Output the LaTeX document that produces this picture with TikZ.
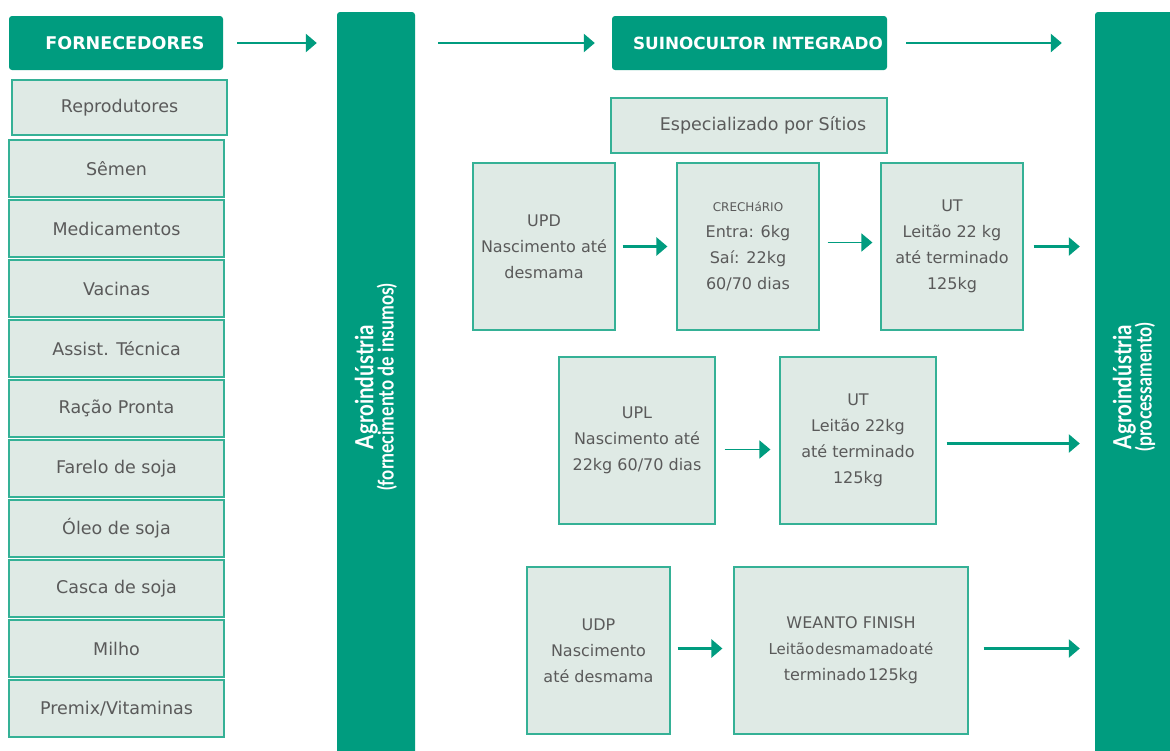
\documentclass[tikz,border=0pt]{standalone}
\usepackage{fontspec}
\setmainfont{DejaVu Sans}
\newfontfamily\condfont[FakeStretch=0.82]{Lato}
\usetikzlibrary{arrows.meta}
\definecolor{agrogreen}{HTML}{009C7F}
\definecolor{boxfill}{HTML}{DFEAE5}
\definecolor{boxline}{HTML}{35B196}
\definecolor{txtgray}{HTML}{5A5A5A}

\begin{document}
\begin{tikzpicture}[x=1pt, y=-1pt, >={Triangle[length=11pt,width=18pt]},
  every node/.style={align=center, text=txtgray, inner sep=0pt},
  head/.style={fill=agrogreen, rounded corners=3pt, text=white, font=\fontsize{17.5}{19}\selectfont\bfseries, minimum height=54pt},
  item/.style={draw=boxline, line width=1.2pt, fill=boxfill, font=\fontsize{17.5}{20}\selectfont, minimum width=215pt, minimum height=57pt},
  unit/.style={draw=boxline, line width=1.2pt, fill=boxfill, font=\fontsize{16}{26}\selectfont, minimum height=167pt},
  column/.style={fill=agrogreen, rounded corners=3pt, minimum width=78pt, minimum height=750pt, text=white},
  flow/.style={->, draw=agrogreen, line width=2.6pt}]
\clip (0,0) rectangle (1170,750);
\fill[white] (0,0) rectangle (1170,750);

% fornecedores
\node[head, minimum width=214pt] (forn) at (116,43) {\hspace{18pt}FORNECEDORES};
\node[item, minimum height=55pt] (repro) at (119.5,107.5) {Reprodutores};
\foreach \lbl [count=\i from 0] in {Sêmen, Medicamentos, Vacinas, Assist. Técnica, Ração Pronta, Farelo de soja, Óleo de soja, Casca de soja, Milho, Premix/Vitaminas}
  \node[item] (sup\i) at (116.5,168.5+60*\i) {\lbl};

% agroindustria
\node[column] (insumos) at (376,387) {\rotatebox{90}{\condfont\bfseries\begin{tabular}{@{}c@{}}\fontsize{25}{25}\selectfont Agroindústria\\[-1pt] \fontsize{21.5}{22}\selectfont (fornecimento de insumos)\end{tabular}}};
\node[column] (proc) at (1134,387) {\rotatebox{90}{\condfont\bfseries\begin{tabular}{@{}c@{}}\fontsize{25}{25}\selectfont Agroindústria\\[-1pt] \fontsize{21.5}{22}\selectfont (processamento)\end{tabular}}};

% suinocultor
\node[head, minimum width=275pt, font=\fontsize{16.8}{19}\selectfont\bfseries] (suin) at (749.5,43) {\hspace{17pt}SUINOCULTOR INTEGRADO};
\node[item, minimum width=276pt, minimum height=55pt] (sitios) at (749,125.5) {\hspace{28pt}Especializado por Sítios};

\node[unit, minimum width=142pt] (upd) at (544,246.5) {UPD\\Nascimento até\\desmama};
\node[unit, minimum width=142pt] (crech) at (748,246.5) {{\fontsize{12}{26}\selectfont CRECHáRIO}\\Entra: 6kg\\Saí: 22kg\\60/70 dias};
\node[unit, minimum width=142pt] (ut1) at (952,246.5) {UT\\Leitão 22 kg\\até terminado\\125kg};

\node[unit, minimum width=156pt] (upl) at (637,440.5) {UPL\\Nascimento até\\22kg 60/70 dias};
\node[unit, minimum width=156pt] (ut2) at (858,440.5) {UT\\Leitão 22kg\\até terminado\\125kg};

\node[unit, minimum width=143pt] (udp) at (598.5,650.5) {UDP\\Nascimento\\até desmama};
\node[unit, minimum width=234pt] (wean) at (851,650.5) {WEANTO FINISH\\{\fontsize{15}{26}\selectfont\spaceskip=1pt Leitão desmamado até}\\{\spaceskip=2pt terminado 125kg}};

% setas
\draw[flow, shorten <=14pt, shorten >=20pt] (forn.east) -- (forn.east -| insumos.west);
\draw[flow, shorten <=23pt, shorten >=17pt] (insumos.east |- suin.west) -- (suin.west);
\draw[flow, shorten <=19pt, shorten >=33pt] (suin.east) -- (suin.east -| proc.west);
\draw[flow, shorten <=7pt, shorten >=9pt] (upd.east) -- (crech.west);
\draw[flow, line width=1.8pt, shorten <=8pt, shorten >=8pt] ([yshift=4pt]crech.east) -- ([yshift=4pt]ut1.west);
\draw[flow, shorten <=10pt, shorten >=15pt] (ut1.east) -- (ut1.east -| proc.west);
\draw[flow, line width=1.8pt, shorten <=9pt, shorten >=9pt] ([yshift=-9pt]upl.east) -- ([yshift=-9pt]ut2.west);
\draw[flow, shorten <=10pt, shorten >=15pt] ([yshift=-3pt]ut2.east) -- ([yshift=-3pt]ut2.east -| proc.west);
\draw[flow, shorten <=7pt, shorten >=11pt] ([yshift=2pt]udp.east) -- ([yshift=2pt]wean.west);
\draw[flow, shorten <=15pt, shorten >=15pt] ([yshift=2pt]wean.east) -- ([yshift=2pt]wean.east -| proc.west);
\end{tikzpicture}
\end{document}
